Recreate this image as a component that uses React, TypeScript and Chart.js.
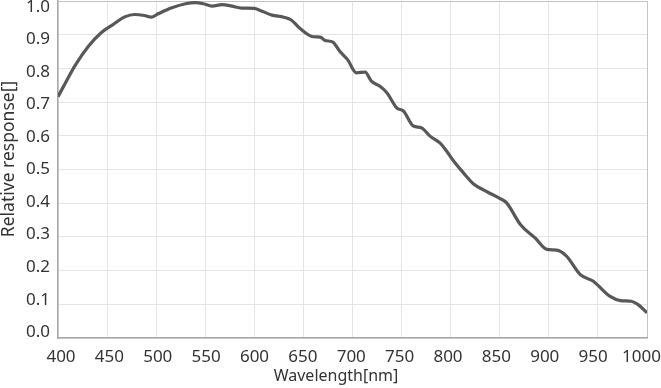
import React, { useEffect, useRef } from "react";
import { Chart, registerables } from "chart.js";

Chart.register(...registerables);

const wavelengths = [
  400, 410, 417, 431, 444, 456, 468, 478, 488, 495, 502, 516, 530, 540, 548, 557, 567, 577, 587, 600,
  606, 618, 630, 638, 646, 660, 667, 672, 680, 687, 695, 704, 713, 719, 728, 735, 745, 752, 762,
  770, 779, 789, 796, 803, 813, 823, 837, 849, 857, 871, 886, 898, 908, 918, 932, 945, 962, 973, 984,
  991, 1000,
];
const response = [
  0.716, 0.770, 0.807, 0.866, 0.906, 0.930, 0.953, 0.960, 0.957, 0.952, 0.962, 0.980, 0.992, 0.995, 0.992, 0.985, 0.989, 0.985, 0.979, 0.978,
  0.972, 0.958, 0.952, 0.943, 0.920, 0.894, 0.893, 0.883, 0.878, 0.851, 0.826, 0.787, 0.789, 0.763, 0.747, 0.728, 0.683, 0.673, 0.629,
  0.624, 0.599, 0.579, 0.554, 0.525, 0.490, 0.458, 0.434, 0.416, 0.401, 0.337, 0.297, 0.263, 0.261, 0.243, 0.188, 0.169, 0.124, 0.111, 0.109,
  0.099, 0.075,
];
const xTicks = [400, 450, 500, 550, 600, 650, 700, 750, 800, 850, 900, 950, 1000];
const yTicks = [0, 0.1, 0.2, 0.3, 0.4, 0.5, 0.6, 0.7, 0.8, 0.9, 1.0];
const xTitle = "Wavelength[nm]";
const yTitle = "Relative response[]";

const FONT = "'Noto Sans', 'DejaVu Sans', sans-serif";

export default function App() {
  const ref = useRef<HTMLCanvasElement>(null);

  useEffect(() => {
    if (!ref.current) return;
    const titles = {
      id: "axisTitles",
      afterDraw(chart: any) {
        const ctx = chart.ctx;
        ctx.save();
        ctx.fillStyle = "#333333";
        ctx.textAlign = "center";
        ctx.textBaseline = "middle";
        ctx.font = `16px ${FONT}`;
        ctx.fillText(xTitle, 336, 376);
        ctx.translate(9, 159);
        ctx.rotate(-Math.PI / 2);
        ctx.font = `17.5px ${FONT}`;
        ctx.fillText(yTitle, 0, 0);
        ctx.restore();
      },
    };
    const chart = new Chart(ref.current, {
      type: "line",
      data: {
        datasets: [
          {
            data: wavelengths.map((w, i) => ({ x: w, y: response[i] })),
            borderColor: "#585858",
            borderWidth: 3.2,
            pointRadius: 0,
            fill: false,
            cubicInterpolationMode: "monotone",
            xAxisID: "x",
            yAxisID: "y",
          },
        ],
      },
      options: {
        animation: false,
        responsive: false,
        layout: { padding: { top: 1, right: 14, left: 0, bottom: 0 } },
        plugins: { legend: { display: false }, tooltip: { enabled: false } },
        scales: {
          x: {
            type: "linear",
            position: "bottom",
            min: 400,
            max: 1000,
            afterBuildTicks: (s: any) => {
              s.ticks = xTicks.map((v) => ({ value: v }));
            },
            ticks: { display: false },
            grid: {
              color: (c: any) => (c.tick && c.tick.value === 1000 ? "#c4c4c4" : "#e4e4e4"),
              drawTicks: false,
            },
            border: { color: "#a8a8a8", width: 1.5 },
            afterFit: (s: any) => {
              s.height = 0;
              s.paddingLeft = 0;
              s.paddingRight = 0;
            },
          },
          xLabels: {
            type: "linear",
            position: "bottom",
            min: 396.9,
            max: 1005.7,
            afterBuildTicks: (s: any) => {
              s.ticks = xTicks.map((v) => ({ value: v }));
            },
            ticks: {
              font: { family: FONT, size: 17 },
              color: "#333333",
              padding: 9,
              maxRotation: 0,
              autoSkip: false,
              callback: (v: any) => String(v),
            },
            grid: { display: false, drawTicks: false },
            border: { display: false },
            afterFit: (s: any) => {
              s.height = 50;
              s.paddingLeft = 0;
              s.paddingRight = 0;
            },
          },
          y: {
            type: "linear",
            position: "left",
            min: 0,
            max: 1,
            afterBuildTicks: (s: any) => {
              s.ticks = yTicks.map((v) => ({ value: v }));
            },
            ticks: { display: false },
            grid: {
              color: (c: any) => (c.tick && c.tick.value === 1 ? "#c4c4c4" : "#e4e4e4"),
              drawTicks: false,
            },
            border: { color: "#a8a8a8", width: 1.5 },
            afterFit: (s: any) => {
              s.width = 0;
              s.paddingTop = 0;
              s.paddingBottom = 0;
            },
          },
          yLabels: {
            type: "linear",
            position: "left",
            min: -0.0178,
            max: 1.0184,
            afterBuildTicks: (s: any) => {
              s.ticks = yTicks.map((v) => ({ value: v }));
            },
            ticks: {
              font: { family: FONT, size: 17 },
              color: "#333333",
              padding: 8,
              callback: (v: any) => Number(v).toFixed(1),
            },
            grid: { display: false, drawTicks: false },
            border: { display: false },
            afterFit: (s: any) => {
              s.width = 58;
              s.paddingTop = 0;
              s.paddingBottom = 0;
            },
          },
        },
      },
      plugins: [titles],
    } as any);
    return () => chart.destroy();
  }, []);

  return (
    <div style={{ position: "fixed", left: 0, top: 0, width: 661, height: 388, background: "#ffffff" }}>
      <canvas ref={ref} width={661} height={388} style={{ display: "block" }} />
    </div>
  );
}
